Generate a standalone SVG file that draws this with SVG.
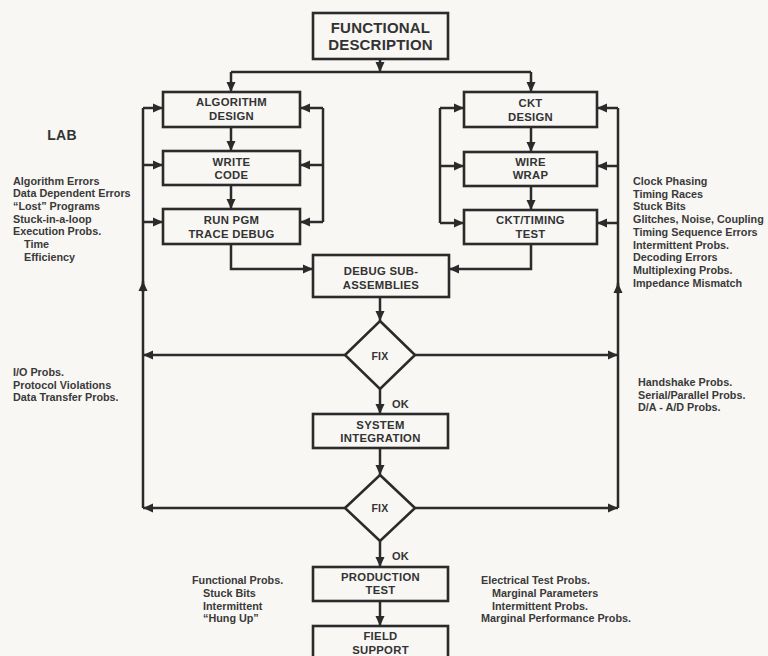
<svg xmlns="http://www.w3.org/2000/svg" width="768" height="656" viewBox="0 0 768 656">
<defs>
<marker id="ah" viewBox="0 0 10 10" refX="10" refY="5" markerUnits="userSpaceOnUse" markerWidth="10" markerHeight="10" orient="auto">
<path d="M0,0.5 L10,5 L0,9.5 z" fill="#2b2b2b"/>
</marker>
<style>
.bx{fill:none;stroke:#2b2b2b;stroke-width:2.6}
.ln{fill:none;stroke:#2b2b2b;stroke-width:2.5}
.ar{fill:none;stroke:#2b2b2b;stroke-width:2.5;marker-end:url(#ah)}
.t{font-family:"Liberation Sans",Arial,sans-serif;font-weight:bold;fill:#333;text-anchor:middle;font-size:11.3px;letter-spacing:0.3px}
.big{font-size:15px;letter-spacing:0.2px}
.s{font-family:"Liberation Sans",Arial,sans-serif;font-weight:bold;fill:#3a3a3a;font-size:10.8px}
.fix{font-size:10.5px}
</style>
</defs>
<rect width="768" height="656" fill="#f8f7f4"/>

<g id="connectors">
<path class="ar" d="M380,59 L380,72"/>
<path class="ln" d="M231,72 L531,72"/>
<path class="ar" d="M231,72 L231,92"/>
<path class="ar" d="M531,72 L531,92"/>
<path class="ar" d="M231,127 L231,151"/>
<path class="ar" d="M231,185 L231,209"/>
<path class="ar" d="M531,127 L531,152"/>
<path class="ar" d="M531,186 L531,210"/>
<path class="ar" d="M231,244 L231,269 L313,269"/>
<path class="ar" d="M531,244 L531,269 L449,269"/>
<path class="ar" d="M380,297 L380,321"/>
<path class="ar" d="M345,355 L143,355"/>
<path class="ar" d="M415,355 L618,355"/>
<path class="ar" d="M380,389 L380,414"/>
<path class="ar" d="M380,448 L380,475"/>
<path class="ar" d="M345,508 L143,508"/>
<path class="ar" d="M415,508 L618,508"/>
<path class="ar" d="M380,541 L380,567"/>
<path class="ar" d="M380,601 L380,626"/>
<path class="ln" d="M143,508 L143,108"/>
<path class="ar" d="M143,108 L163,108"/>
<path class="ar" d="M143,165 L163,165"/>
<path class="ar" d="M143,222 L163,222"/>
<path class="ar" d="M143,292 L143,281"/>
<path class="ln" d="M618,508 L618,108"/>
<path class="ar" d="M618,108 L597,108"/>
<path class="ar" d="M618,166 L597,166"/>
<path class="ar" d="M618,223 L597,223"/>
<path class="ar" d="M618,294 L618,283"/>
<path class="ln" d="M323,108 L323,222"/>
<path class="ar" d="M323,108 L300,108"/>
<path class="ar" d="M323,165 L300,165"/>
<path class="ar" d="M323,222 L300,222"/>
<path class="ln" d="M440,108 L440,223"/>
<path class="ar" d="M440,108 L464,108"/>
<path class="ar" d="M440,166 L464,166"/>
<path class="ar" d="M440,223 L464,223"/>
</g>

<g id="functional-description">
<rect class="bx" x="313" y="13" width="135" height="46"/>
<text class="t big" x="380.5" y="33">FUNCTIONAL</text>
<text class="t big" x="380.5" y="50">DESCRIPTION</text>
</g>
<g id="algorithm-design">
<rect class="bx" x="163" y="92" width="137" height="35"/>
<text class="t" x="231.5" y="106">ALGORITHM</text>
<text class="t" x="231.5" y="120">DESIGN</text>
</g>
<g id="write-code">
<rect class="bx" x="163" y="151" width="137" height="34"/>
<text class="t" x="231.5" y="165.5">WRITE</text>
<text class="t" x="231.5" y="179">CODE</text>
</g>
<g id="run-pgm">
<rect class="bx" x="163" y="209" width="137" height="35"/>
<text class="t" x="231.5" y="224">RUN PGM</text>
<text class="t" x="231.5" y="237.5">TRACE DEBUG</text>
</g>
<g id="ckt-design">
<rect class="bx" x="464" y="92" width="133" height="35"/>
<text class="t" x="530.5" y="107">CKT</text>
<text class="t" x="530.5" y="121">DESIGN</text>
</g>
<g id="wire-wrap">
<rect class="bx" x="464" y="152" width="133" height="34"/>
<text class="t" x="530.5" y="165.5">WIRE</text>
<text class="t" x="530.5" y="179">WRAP</text>
</g>
<g id="ckt-timing-test">
<rect class="bx" x="464" y="210" width="133" height="34"/>
<text class="t" x="530.5" y="224">CKT/TIMING</text>
<text class="t" x="530.5" y="237.5">TEST</text>
</g>
<g id="debug-sub-assemblies">
<rect class="bx" x="313" y="255" width="136" height="42"/>
<text class="t" x="381" y="275">DEBUG SUB-</text>
<text class="t" x="381" y="289">ASSEMBLIES</text>
</g>
<g id="fix-1">
<polygon class="bx" points="380,321 415,355 380,389 345,355"/>
<text class="t fix" x="380" y="360">FIX</text>
</g>
<g id="system-integration">
<rect class="bx" x="313" y="414" width="135" height="34"/>
<text class="t" x="380.5" y="428.5">SYSTEM</text>
<text class="t" x="380.5" y="442">INTEGRATION</text>
</g>
<g id="fix-2">
<polygon class="bx" points="380,475 415,508 380,541 345,508"/>
<text class="t fix" x="380" y="512">FIX</text>
</g>
<g id="production-test">
<rect class="bx" x="313" y="567" width="135" height="34"/>
<text class="t" x="380.5" y="580.5">PRODUCTION</text>
<text class="t" x="380.5" y="594">TEST</text>
</g>
<g id="field-support">
<rect class="bx" x="313" y="626" width="135" height="44"/>
<text class="t" x="380.5" y="640">FIELD</text>
<text class="t" x="380.5" y="653.5">SUPPORT</text>
</g>

<g id="labels">
<text class="t" x="392" y="408" style="text-anchor:start;font-size:11px">OK</text>
<text class="t" x="392" y="560" style="text-anchor:start;font-size:11px">OK</text>
<text class="t" x="62" y="140" style="font-size:14px">LAB</text>
<text class="s" x="13" y="184.5">Algorithm Errors</text>
<text class="s" x="13" y="197.2">Data Dependent Errors</text>
<text class="s" x="13" y="209.9">“Lost” Programs</text>
<text class="s" x="13" y="222.6">Stuck-in-a-loop</text>
<text class="s" x="13" y="235.3">Execution Probs.</text>
<text class="s" x="24" y="248">Time</text>
<text class="s" x="24" y="260.7">Efficiency</text>
<text class="s" x="633" y="185">Clock Phasing</text>
<text class="s" x="633" y="197.7">Timing Races</text>
<text class="s" x="633" y="210.4">Stuck Bits</text>
<text class="s" x="633" y="223.1">Glitches, Noise, Coupling</text>
<text class="s" x="633" y="235.8">Timing Sequence Errors</text>
<text class="s" x="633" y="248.5">Intermittent Probs.</text>
<text class="s" x="633" y="261.2">Decoding Errors</text>
<text class="s" x="633" y="273.9">Multiplexing Probs.</text>
<text class="s" x="633" y="286.6">Impedance Mismatch</text>
<text class="s" x="13" y="376">I/O Probs.</text>
<text class="s" x="13" y="388.5">Protocol Violations</text>
<text class="s" x="13" y="401">Data Transfer Probs.</text>
<text class="s" x="638" y="386">Handshake Probs.</text>
<text class="s" x="638" y="398.5">Serial/Parallel Probs.</text>
<text class="s" x="638" y="411">D/A - A/D Probs.</text>
<text class="s" x="192" y="584">Functional Probs.</text>
<text class="s" x="203" y="597">Stuck Bits</text>
<text class="s" x="203" y="610">Intermittent</text>
<text class="s" x="203" y="622">“Hung Up”</text>
<text class="s" x="481" y="584">Electrical Test Probs.</text>
<text class="s" x="492" y="597">Marginal Parameters</text>
<text class="s" x="492" y="610">Intermittent Probs.</text>
<text class="s" x="481" y="622">Marginal Performance Probs.</text>
</g>
</svg>
